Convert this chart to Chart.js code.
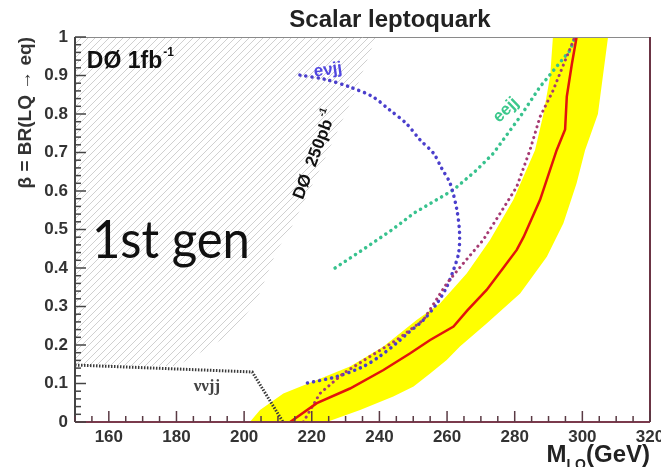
<!DOCTYPE html>
<html>
<head>
<meta charset="utf-8">
<script src="https://cdn.jsdelivr.net/npm/chart.js@4.4.1/dist/chart.umd.min.js"></script>
<style>
  html, body { margin: 0; padding: 0; background: #fff; }
  canvas { display: block; }
</style>
</head>
<body>
<canvas id="lqChart" width="661" height="467"></canvas>
<script>
// axis ranges
const massRange = [150, 320];
const betaRange = [0, 1];

// observed limit (red line)
const limitMass = [213.6, 221.5, 231.3, 241.2, 249, 255, 261.9, 266, 271.7, 276.6, 280.6, 282.6, 287.5, 292.4, 294.9, 295.4, 296.9, 298.3];
const limitBeta = [0, 0.049, 0.087, 0.135, 0.178, 0.213, 0.248, 0.29, 0.343, 0.40, 0.447, 0.48, 0.577, 0.706, 0.76, 0.845, 0.93, 1.0];

// yellow band, left and right edges
const bandLowMass = [201.7, 204.7, 211.6, 221.5, 231.3, 241.2, 251, 257.9, 265.8, 272.7, 279.6, 286, 288.5, 290.5, 291.3];
const bandLowBeta = [0, 0.031, 0.074, 0.109, 0.144, 0.196, 0.265, 0.308, 0.386, 0.473, 0.577, 0.706, 0.8, 0.9, 1.0];
const bandHighMass = [224.4, 234.3, 244.1, 250.1, 255, 259.9, 263.8, 271.7, 281.6, 289.5, 294.4, 298.3, 300.8, 304.6, 306.1, 307.6];
const bandHighBeta = [0, 0.031, 0.066, 0.092, 0.126, 0.161, 0.196, 0.256, 0.334, 0.429, 0.516, 0.62, 0.706, 0.8, 0.9, 1.0];

// dotted purple limit
const combMass = [217.5, 222.4, 229.3, 237.2, 245.1, 253, 259.9, 264.8, 270.7, 275.7, 280.6, 284.5, 287.5, 291.4, 294.5, 297.8];
const combBeta = [0, 0.074, 0.126, 0.17, 0.213, 0.265, 0.36, 0.412, 0.473, 0.542, 0.611, 0.706, 0.793, 0.862, 0.93, 1.0];

// e nu jj channel
const evjjMass = [216.5, 224, 231.3, 238, 243.1, 248, 252, 256, 258.4, 260.9, 262.9, 263.7, 263.4, 261.9, 259.9, 257, 253, 248, 245.1, 240, 235.2, 227.4, 217.5];
const evjjBeta = [0.901, 0.89, 0.87, 0.845, 0.81, 0.775, 0.733, 0.698, 0.659, 0.62, 0.551, 0.49, 0.438, 0.395, 0.351, 0.308, 0.265, 0.228, 0.205, 0.17, 0.144, 0.118, 0.099];

// e e jj channel
const eejjMass = [226.9, 235, 243.7, 250.3, 261.9, 268.8, 273.7, 281.6, 287.5, 292.4, 296.4, 297.8];
const eejjBeta = [0.40, 0.447, 0.499, 0.543, 0.603, 0.655, 0.698, 0.793, 0.871, 0.923, 0.966, 1.0];

// nu nu jj channel
const nunuMass = [150, 202.4, 211.5];
const nunuBeta = [0.148, 0.13, 0];

// old DØ 250 pb-1 exclusion edge (hatched)
const oldMass = [180, 188.4, 196.4, 203.8, 209.7, 213.6, 223.3, 232.2, 239];
const oldBeta = [0.145, 0.187, 0.231, 0.317, 0.447, 0.499, 0.673, 0.844, 1.0];

const sans = "'Liberation Sans', Arial, sans-serif";

function pts(xs, ys) {
    return xs.map((x, i) => ({ x: x, y: ys[i] }));
}

function hatchPattern() {
    const c = document.createElement('canvas');
    c.width = 7;
    c.height = 7;
    const g = c.getContext('2d');
    g.strokeStyle = '#d0d0d0';
    g.lineWidth = 1;
    g.beginPath();
    g.moveTo(0, 7); g.lineTo(7, 0);
    g.moveTo(-1, 1); g.lineTo(1, -1);
    g.moveTo(6, 8); g.lineTo(8, 6);
    g.stroke();
    return g.createPattern(c, 'repeat');
}

// draws text with an optional superscript, in data coordinates
function drawLabel(ctx, chart, o) {
    const x = chart.scales.x.getPixelForValue(o.at[0]);
    const y = chart.scales.y.getPixelForValue(o.at[1]);
    ctx.save();
    ctx.translate(x, y);
    ctx.rotate((o.angle || 0) * Math.PI / 180);
    ctx.fillStyle = o.color;
    ctx.textBaseline = o.baseline || 'alphabetic';
    ctx.font = o.font;
    const w = ctx.measureText(o.text).width;
    let sw = 0;
    if (o.sup) {
        ctx.font = o.supFont;
        sw = ctx.measureText(o.sup).width + 1;
    }
    let x0 = 0;
    if (o.align === 'center') x0 = -(w + sw) / 2;
    ctx.textAlign = 'left';
    ctx.font = o.font;
    if (o.maxWidth) ctx.fillText(o.text, x0, 0, o.maxWidth);
    else ctx.fillText(o.text, x0, 0);
    if (o.sup) {
        ctx.font = o.supFont;
        ctx.fillText(o.sup, x0 + w + 1, o.supShift);
    }
    ctx.restore();
}

const framePlugin = {
    id: 'frameAndText',
    afterDraw(chart) {
        const ctx = chart.ctx;
        const a = chart.chartArea;
        const xs = chart.scales.x;
        const ys = chart.scales.y;

        // frame
        ctx.save();
        ctx.lineWidth = 1;
        ctx.strokeStyle = '#8a8a8a';
        ctx.beginPath(); ctx.moveTo(a.left, a.top + 0.5); ctx.lineTo(a.right, a.top + 0.5); ctx.stroke();
        ctx.lineWidth = 2;
        ctx.strokeStyle = '#6b3444';
        ctx.beginPath(); ctx.moveTo(a.right, a.top); ctx.lineTo(a.right, a.bottom); ctx.stroke();
        ctx.strokeStyle = '#7a3a4c';
        ctx.beginPath(); ctx.moveTo(a.left, a.bottom); ctx.lineTo(a.right, a.bottom); ctx.stroke();
        ctx.strokeStyle = '#444';
        ctx.beginPath(); ctx.moveTo(a.left, a.top); ctx.lineTo(a.left, a.bottom); ctx.stroke();

        // inward ticks
        ctx.lineWidth = 1.5;
        ctx.strokeStyle = '#5a3a44';
        xs.ticks.forEach(t => {
            const px = xs.getPixelForValue(t.value);
            const len = t.value % 20 === 0 ? 11 : 6;
            ctx.beginPath(); ctx.moveTo(px, a.bottom); ctx.lineTo(px, a.bottom - len); ctx.stroke();
        });
        ctx.strokeStyle = '#444';
        ys.ticks.forEach(t => {
            const py = ys.getPixelForValue(t.value);
            const len = Math.round(t.value * 100) % 10 === 0 ? 11 : 6;
            ctx.beginPath(); ctx.moveTo(a.left, py); ctx.lineTo(a.left + len, py); ctx.stroke();
        });

        // title
        ctx.fillStyle = '#222';
        ctx.font = 'bold 24px ' + sans;
        ctx.textAlign = 'center';
        ctx.textBaseline = 'alphabetic';
        ctx.fillText('Scalar leptoquark', 390, 27);

        // x axis title M_LQ(GeV), right aligned to the frame
        ctx.font = 'bold 24px ' + sans;
        const wG = ctx.measureText('(GeV)').width;
        const wM = ctx.measureText('M').width;
        ctx.font = 'bold 14px ' + sans;
        const wL = ctx.measureText('LQ').width;
        ctx.textAlign = 'left';
        let tx = a.right - wG - wL - wM;
        ctx.font = 'bold 24px ' + sans;
        ctx.fillText('M', tx, 462);
        ctx.font = 'bold 14px ' + sans;
        ctx.fillText('LQ', tx + wM, 469);
        ctx.font = 'bold 24px ' + sans;
        ctx.fillText('(GeV)', tx + wM + wL, 462);
        ctx.restore();

        // labels inside the frame
        drawLabel(ctx, chart, { text: 'DØ 1fb', sup: '-1', at: [153.5, 0.919], font: 'bold 23px ' + sans,
            supFont: 'bold 12px ' + sans, supShift: -12, color: '#111' });
        drawLabel(ctx, chart, { text: 'DØ  250pb', sup: '-1', at: [221, 0.694], angle: -69, align: 'center',
            baseline: 'middle', font: 'bold 17px ' + sans, supFont: 'bold 10px ' + sans, supShift: -8, color: '#111' });
        drawLabel(ctx, chart, { text: '1st gen', at: [155, 0.426], font: '52px Lato, ' + sans, maxWidth: 158, color: '#111' });
        drawLabel(ctx, chart, { text: 'eνjj', at: [224.8, 0.914], align: 'center', baseline: 'middle',
            font: 'bold 17px ' + sans, color: '#5046e0', angle: -8 });
        drawLabel(ctx, chart, { text: 'eejj', at: [277.4, 0.81], align: 'center', baseline: 'middle',
            font: 'bold 17px ' + sans, color: '#3cc88c', angle: -44 });
        drawLabel(ctx, chart, { text: 'ννjj', at: [189, 0.091], align: 'center', baseline: 'middle',
            font: "bold 17px 'Liberation Serif', serif", color: '#444' });
    }
};

const ctx = document.getElementById('lqChart').getContext('2d');

new Chart(ctx, {
    type: 'scatter',
    data: {
        datasets: [
            {
                label: 'observed',
                data: pts(limitMass, limitBeta),
                showLine: true,
                borderColor: '#e2140c',
                borderWidth: 2.5,
                order: 1
            },
            {
                label: 'combined',
                data: pts(combMass, combBeta),
                showLine: true,
                borderColor: '#a63a72',
                borderWidth: 3,
                borderDash: [0.1, 5.5],
                borderCapStyle: 'round',
                order: 2
            },
            {
                label: 'evjj',
                data: pts(evjjMass, evjjBeta),
                showLine: true,
                borderColor: '#4a3ecc',
                borderWidth: 3.5,
                borderDash: [0.1, 6],
                borderCapStyle: 'round',
                tension: 0.3,
                order: 3
            },
            {
                label: 'eejj',
                data: pts(eejjMass, eejjBeta),
                showLine: true,
                borderColor: '#38c28e',
                borderWidth: 3.5,
                borderDash: [0.1, 6],
                borderCapStyle: 'round',
                order: 4
            },
            {
                label: 'nunujj',
                data: pts(nunuMass, nunuBeta),
                showLine: true,
                borderColor: '#3a3a3a',
                borderWidth: 3,
                borderDash: [1.5, 1.5],
                order: 5
            },
            {
                label: 'band low',
                data: pts(bandLowMass, bandLowBeta),
                showLine: true,
                indexAxis: 'y',
                borderWidth: 0,
                backgroundColor: '#ffff00',
                fill: '+1',
                order: 8
            },
            {
                label: 'band high',
                data: pts(bandHighMass, bandHighBeta),
                showLine: true,
                indexAxis: 'y',
                borderWidth: 0,
                fill: false,
                order: 8
            },
            {
                label: 'D0 250pb-1',
                data: pts(oldMass, oldBeta),
                showLine: true,
                indexAxis: 'y',
                borderWidth: 0,
                backgroundColor: hatchPattern(),
                fill: { value: massRange[0] },
                order: 9
            }
        ]
    },
    options: {
        responsive: false,
        animation: false,
        layout: { padding: { top: 37, right: 11, left: 0, bottom: 0 } },
        elements: { point: { radius: 0, hoverRadius: 0 } },
        plugins: {
            legend: { display: false },
            tooltip: { enabled: false }
        },
        scales: {
            x: {
                type: 'linear',
                min: massRange[0],
                max: massRange[1],
                afterFit: s => { s.height = 45; s.paddingRight = 11; },
                grid: { display: false, drawTicks: false },
                border: { display: false },
                ticks: {
                    stepSize: 5,
                    autoSkip: false,
                    maxRotation: 0,
                    padding: 5,
                    color: '#333',
                    font: { family: sans, size: 17, weight: 'bold' },
                    callback: v => (v % 20 === 0 ? String(v) : '')
                }
            },
            y: {
                type: 'linear',
                min: betaRange[0],
                max: betaRange[1],
                afterFit: s => { s.width = 75; },
                grid: { display: false, drawTicks: false },
                border: { display: false },
                ticks: {
                    stepSize: 0.02,
                    autoSkip: false,
                    padding: 7,
                    color: '#333',
                    font: { family: sans, size: 17, weight: 'bold' },
                    callback: v => (Math.round(v * 100) % 10 === 0 ? String(Math.round(v * 10) / 10) : '')
                },
                title: {
                    display: true,
                    text: 'β = BR(LQ → eq)',
                    align: 'end',
                    color: '#333',
                    font: { family: sans, size: 19, weight: 'bold' },
                    padding: { top: 14, bottom: 0 }
                }
            }
        }
    },
    plugins: [framePlugin]
});
</script>
</body>
</html>
